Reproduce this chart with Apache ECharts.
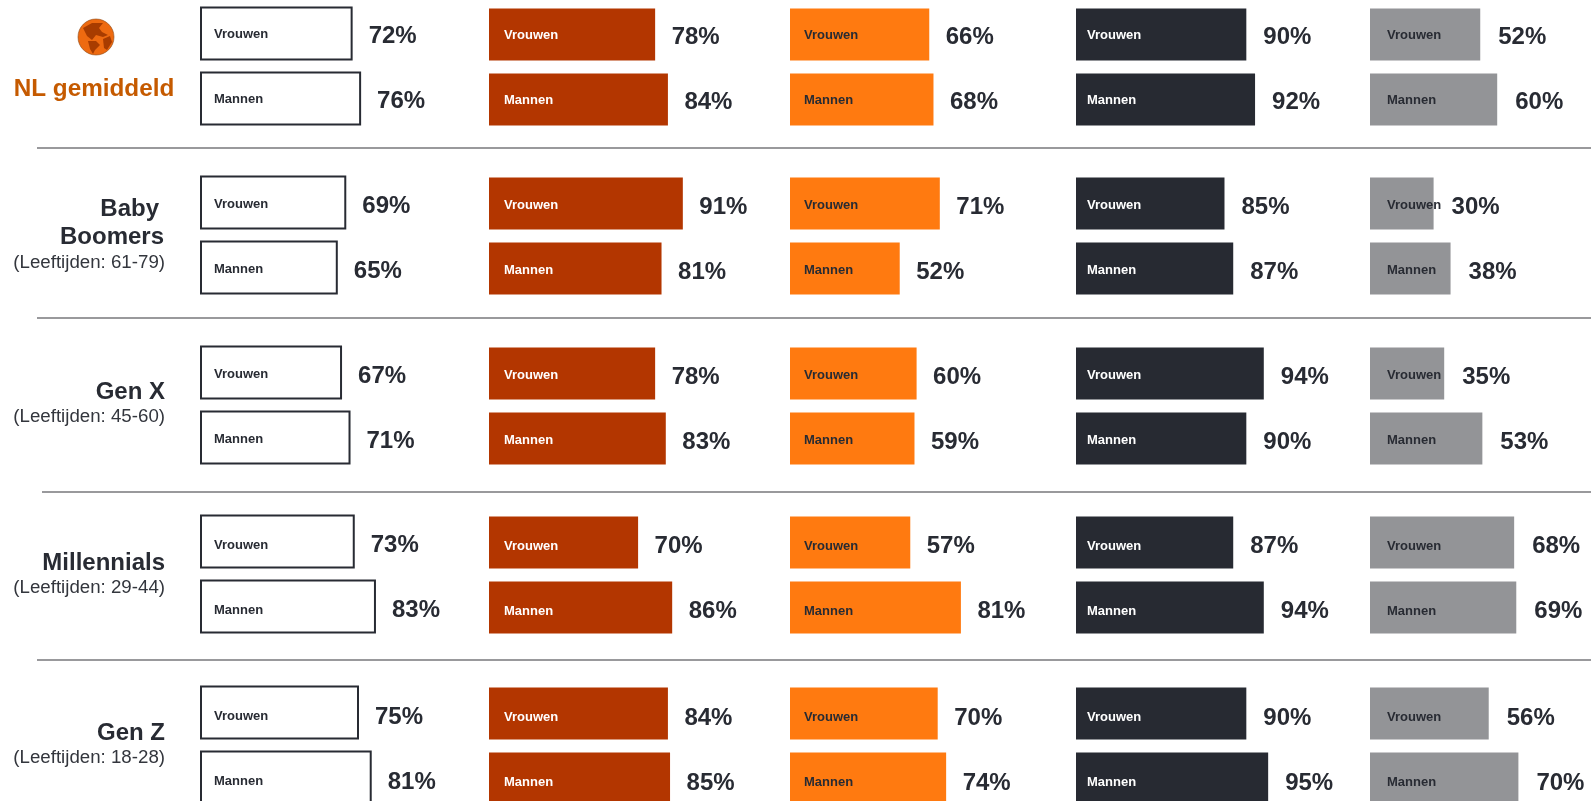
<!DOCTYPE html>
<html><head><meta charset="utf-8">
<style>html,body{margin:0;padding:0;background:#fff}#c{width:1591px;height:801px}</style>
<script src="https://cdn.jsdelivr.net/npm/echarts@6/dist/echarts.min.js"></script>
</head><body><div id="c"></div>
<script>
const genders = ['Vrouwen', 'Mannen'];
const column1 = [[72,76],[69,65],[67,71],[73,83],[75,81]];
const column2 = [[78,84],[91,81],[78,83],[70,86],[84,85]];
const column3 = [[66,68],[71,52],[60,59],[57,81],[70,74]];
const column4 = [[90,92],[85,87],[94,90],[87,94],[90,95]];
const column5 = [[52,60],[30,38],[35,53],[68,69],[56,70]];
const columns = [column1,column2,column3,column4,column5];

const INK='#282b33';
const colStyle=[
 {left:200,width:212,min:0,fill:'#ffffff',border:INK,bw:2,label:INK,margin:14,dist:16,dy:-1},
 {left:489,width:213,min:0,fill:'#b33600',label:'#ffffff',margin:15,dist:16.5,dy:0},
 {left:790,width:211,min:0,fill:'#ff7a10',label:INK,margin:14,dist:16.5,dy:0},
 {left:1076,width:214,min:51,fill:'#272a32',label:'#ffffff',margin:11,dist:17,dy:0},
 {left:1370,width:212,min:0,fill:'#939497',label:INK,margin:17,dist:18,dy:0}
];
const rowTops=[2,171,341,510,681];
const nameShift=[0.5,2,2,4,4];
const valueShift=[2.5,3.5,3.5,4,4.5];

const grid=[],xAxis=[],yAxis=[],series=[];
columns.forEach((col,c)=>{
  const s=colStyle[c];
  col.forEach((row,r)=>{
    const i=grid.length;
    grid.push({left:s.left,top:rowTops[r]+s.dy,width:s.width,height:130,containLabel:false,outerBoundsMode:'none'});
    xAxis.push({type:'value',gridIndex:i,min:s.min,max:100,show:false});
    yAxis.push({type:'category',gridIndex:i,data:genders,inverse:true,z:5,
      axisLine:{show:false},axisTick:{show:false},splitLine:{show:false},
      axisLabel:{inside:true,margin:s.margin,formatter:'{a|{value}}',
        rich:{a:{padding:[nameShift[r]*2,0,0,0],color:s.label,fontFamily:'Liberation Sans',fontSize:13,fontWeight:'bold'}}}});
    series.push({type:'bar',xAxisIndex:i,yAxisIndex:i,barWidth:s.bw?54:52,data:row,silent:true,animation:false,clip:s.min!==0,
      itemStyle:{color:s.fill,borderColor:s.border||s.fill,borderWidth:s.bw||0},
      label:{show:true,position:'right',distance:s.dist,offset:[0,valueShift[r]],formatter:'{c}%',color:INK,fontFamily:'Liberation Sans',fontSize:24,fontWeight:'bold'}});
  });
});

const rule=(x,y)=>({type:'line',shape:{x1:x,y1:y,x2:1591,y2:y},style:{stroke:'#99999c',lineWidth:2}});
const head=(t,x,y)=>({type:'text',style:{text:t,x,y,align:'right',verticalAlign:'middle',fill:INK,font:'bold 24px "Liberation Sans"'}});
const sub=(t,y)=>({type:'text',style:{text:t,x:165,y,align:'right',verticalAlign:'middle',fill:'#33363d',font:'18.7px "Liberation Sans"'}});
const LAND='#a83c00';
const graphic=[
 rule(37,148),rule(37,318),rule(42,492),rule(37,660),
 {type:'circle',shape:{cx:96,cy:37,r:18},style:{fill:'#ee6a10',stroke:'#8a4a1a',lineWidth:0.6}},
 {type:'polygon',shape:{points:[[83,28],[92,23],[103,23],[99,28],[102,32],[108,35],[103,37],[96,35],[92,40],[87,36]]},style:{fill:LAND}},
 {type:'polygon',shape:{points:[[88,41],[96,41],[100,45],[95,50],[93,54],[90,49]]},style:{fill:LAND}},
 {type:'polygon',shape:{points:[[103,39],[110,36],[112,42],[107,50],[104,48]]},style:{fill:LAND}},
 {type:'text',style:{text:'NL gemiddeld',x:94,y:89,align:'center',verticalAlign:'middle',fill:'#c55a00',font:'bold 24.3px "Liberation Sans"'}},
 head('Baby',159,209),head('Boomers',164,237),sub('(Leeftijden: 61-79)',263),
 head('Gen X',165,392),sub('(Leeftijden: 45-60)',417),
 head('Millennials',165,563),sub('(Leeftijden: 29-44)',588),
 head('Gen Z',165,733),sub('(Leeftijden: 18-28)',758)
];
const chart=echarts.init(document.getElementById('c'),null,{renderer:'canvas'});
chart.setOption({animation:false,backgroundColor:'#fff',grid,xAxis,yAxis,series,graphic});
</script></body></html>
